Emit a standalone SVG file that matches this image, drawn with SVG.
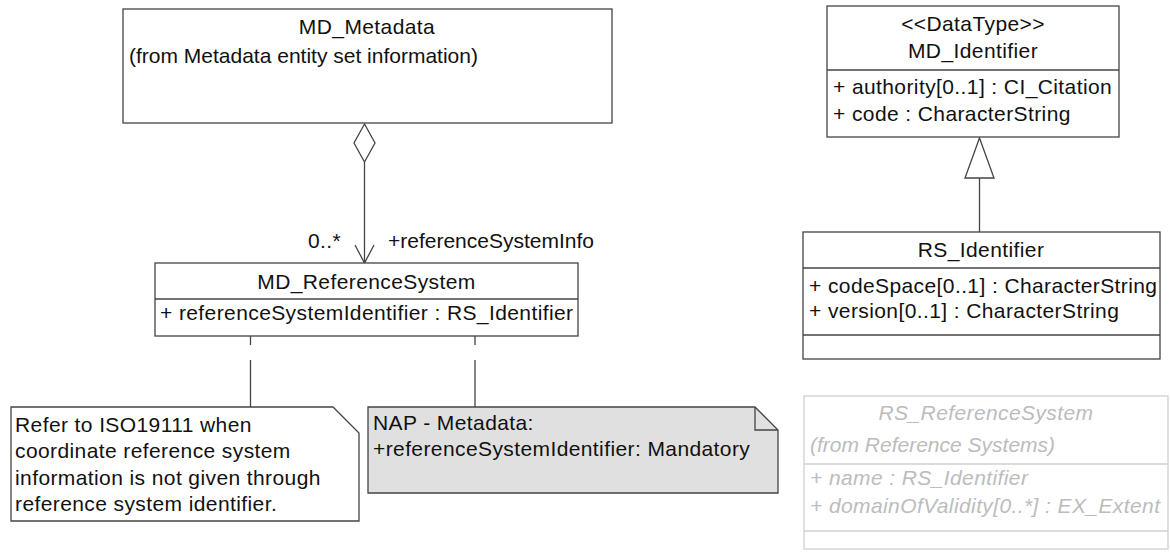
<svg xmlns="http://www.w3.org/2000/svg" width="1170" height="553" viewBox="0 0 1170 553">
<style>
  text { font-family: "Liberation Sans", Arial, sans-serif; font-size: 21px; letter-spacing: 0.4px; fill: #111; }
  .c { text-anchor: middle; }
  .tight { letter-spacing: 0; }
  .box { fill: #fff; stroke: #444; stroke-width: 1.3; }
  .ln { stroke: #444; stroke-width: 1.3; fill: none; }
  .ghost { fill: #fff; stroke: #d0d0d0; stroke-width: 1.3; }
  .ghostln { stroke: #d0d0d0; stroke-width: 1.3; }
  .gt { fill: #bcbcbc; font-style: italic; }
</style>
<rect width="1170" height="553" fill="#fff"/>

<g id="connectors">
  <polygon class="box" points="364.5,124 375,143 364.5,162 354,143"/>
  <line class="ln" x1="364.5" y1="162" x2="364.5" y2="263"/>
  <polyline class="ln" points="355,245 364.5,263 374,245"/>
  <text x="308" y="248">0..*</text>
  <text class="tight" x="388" y="248">+referenceSystemInfo</text>
  <line class="ln" x1="250.5" y1="336" x2="250.5" y2="407" stroke-dasharray="9 15 60"/>
  <line class="ln" x1="475" y1="336" x2="475" y2="407" stroke-dasharray="9 15 60"/>
  <line class="ln" x1="979.5" y1="178" x2="979.5" y2="232"/>
  <polygon class="box" points="979.5,138 994,178 965,178"/>
</g>

<g id="MD_Metadata">
  <rect class="box" x="123" y="9" width="489" height="114"/>
  <text class="c" x="367" y="34">MD_Metadata</text>
  <text class="tight" x="129" y="63">(from Metadata entity set information)</text>
</g>

<g id="MD_ReferenceSystem">
  <rect class="box" x="155" y="263" width="423" height="73"/>
  <line class="ln" x1="155" y1="299" x2="578" y2="299"/>
  <text class="c" x="366.5" y="289">MD_ReferenceSystem</text>
  <text x="160" y="320">+ referenceSystemIdentifier : RS_Identifier</text>
</g>

<g id="note1">
  <path class="box" d="M11,407 H333 L359,433 V521 H11 Z"/>
  <text x="15" y="432">Refer to ISO19111 when</text>
  <text x="15" y="458">coordinate reference system</text>
  <text x="15" y="485">information is not given through</text>
  <text x="15" y="511">reference system identifier.</text>
</g>

<g id="note2">
  <path class="box" d="M368,407 H755 L778,430 V493 H368 Z" style="fill:#e0e0e0"/>
  <path class="ln" d="M755,407 V430 H778"/>
  <text x="373" y="430">NAP - Metadata:</text>
  <text x="373" y="456">+referenceSystemIdentifier: Mandatory</text>
</g>

<g id="MD_Identifier">
  <rect class="box" x="827" y="6" width="292" height="131"/>
  <line class="ln" x1="827" y1="70" x2="1119" y2="70"/>
  <text class="c" x="973" y="31">&lt;&lt;DataType&gt;&gt;</text>
  <text class="c" x="973" y="58">MD_Identifier</text>
  <text x="833" y="94">+ authority[0..1] : CI_Citation</text>
  <text x="833" y="121">+ code : CharacterString</text>
</g>

<g id="RS_Identifier">
  <rect class="box" x="803" y="232" width="357" height="127"/>
  <line class="ln" x1="803" y1="268" x2="1160" y2="268"/>
  <line class="ln" x1="803" y1="335" x2="1160" y2="335"/>
  <text class="c" x="981" y="257">RS_Identifier</text>
  <text x="809" y="293">+ codeSpace[0..1] : CharacterString</text>
  <text x="809" y="318">+ version[0..1] : CharacterString</text>
</g>

<g id="RS_ReferenceSystem">
  <rect class="ghost" x="804" y="396" width="364" height="153"/>
  <line class="ghostln" x1="804" y1="464" x2="1168" y2="464"/>
  <line class="ghostln" x1="804" y1="531" x2="1168" y2="531"/>
  <text class="c gt" x="986" y="420">RS_ReferenceSystem</text>
  <text class="gt tight" x="810" y="452">(from Reference Systems)</text>
  <text class="gt" x="810" y="485">+ name : RS_Identifier</text>
  <text class="gt" x="810" y="513">+ domainOfValidity[0..*] : EX_Extent</text>
</g>
</svg>
